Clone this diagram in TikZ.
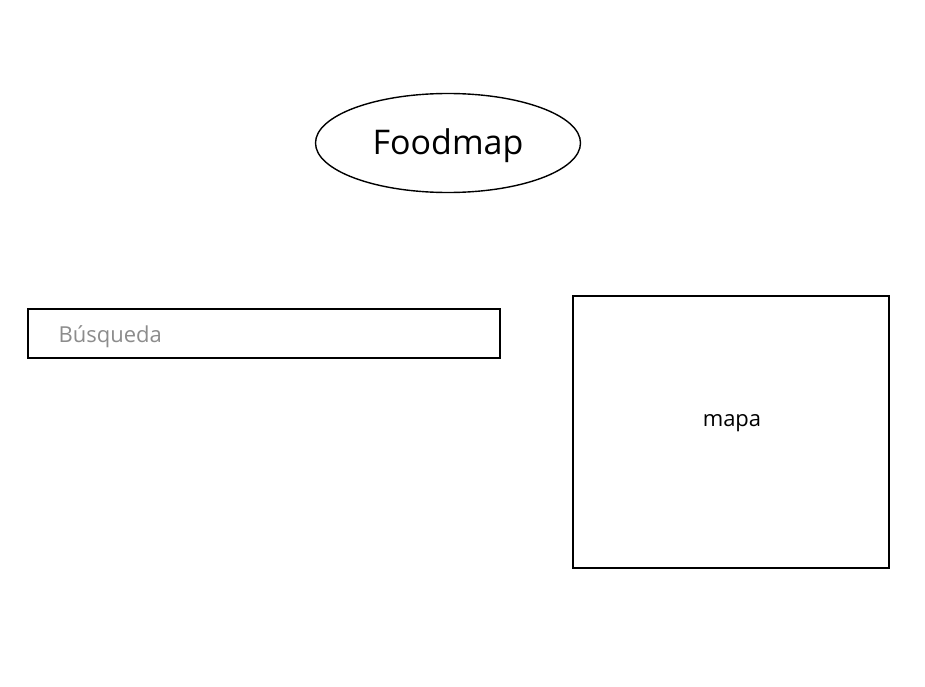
\documentclass[tikz,border=0pt]{standalone}
\usepackage{fontspec}
\setmainfont{Open Sans}
\usetikzlibrary{positioning,shapes}

\begin{document}
\begin{tikzpicture}[x=1pt,y=-1pt,
  box/.style={draw,thick,line width=1.4pt,inner sep=0pt},
  titulo/.style={draw,line width=1.4pt,ellipse,minimum width=265pt,minimum height=99pt,inner sep=0pt},
  etiqueta/.style={font=\fontsize{22}{26}\selectfont}]
  \useasboundingbox (0,0) rectangle (925,687);
  \node [titulo] (foodmap) at (448,143) {};
  \node [font=\fontsize{34}{40}\selectfont] (foodtexto) at (448,146) {Foodmap};
  \node [box,minimum width=472pt,minimum height=49pt] (busqueda) at (264,333.5) {};
  \node [etiqueta,text=black!45,anchor=west] (busqtexto) at (55,337) {Búsqueda};
  \node [box,minimum width=316pt,minimum height=272pt] (mapa) at (731,432) {};
  \node [etiqueta] (mapatexto) at (732,423) {mapa};
\end{tikzpicture}
\end{document}
